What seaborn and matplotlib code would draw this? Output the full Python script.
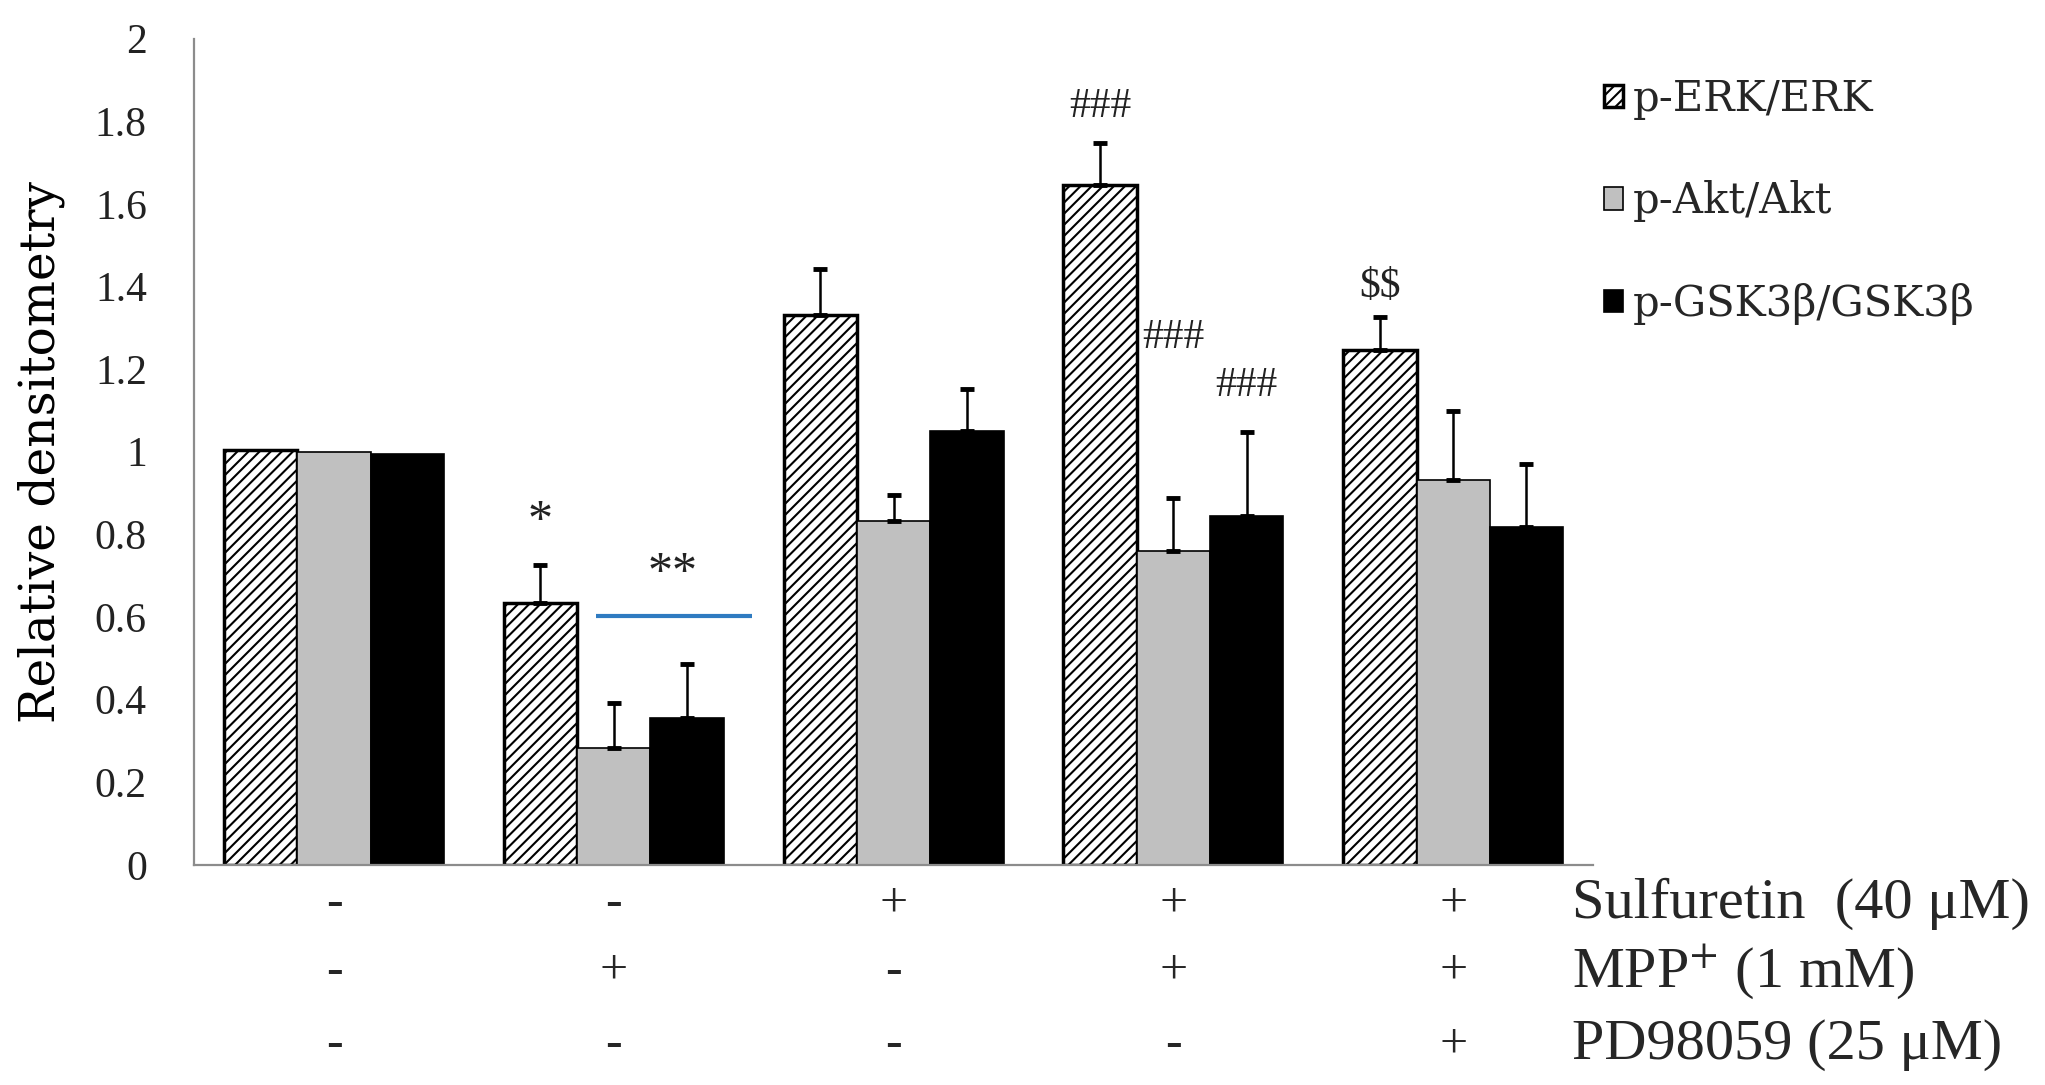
import matplotlib
matplotlib.use("Agg")
import matplotlib.pyplot as plt
import matplotlib.transforms as mtransforms
import numpy as np
import pandas as pd
import seaborn as sns


GROUPS = ["Control", "MPP+", "Sulfuretin", "Sulfuretin+MPP+", "Sulfuretin+MPP++PD98059"]
SERIES = ["p-ERK/ERK", "p-Akt/Akt", "p-GSK3\u03b2/GSK3\u03b2"]

erk_mean = [1.005, 0.635, 1.332, 1.646, 1.246]
erk_err = [0.0, 0.09, 0.11, 0.10, 0.08]
akt_mean = [1.0, 0.282, 0.833, 0.759, 0.931]
akt_err = [0.0, 0.111, 0.063, 0.13, 0.168]
gsk_mean = [0.995, 0.355, 1.051, 0.844, 0.819]
gsk_err = [0.0, 0.131, 0.101, 0.203, 0.152]

sulfuretin_row = ["-", "-", "+", "+", "+"]
mpp_row = ["-", "+", "-", "+", "+"]
pd_row = ["-", "-", "-", "-", "+"]
row_labels = ["Sulfuretin  (40 \u03bcM)", "MPP$^{+}$ (1 mM)", "PD98059 (25 \u03bcM)"]

y_ticks = [0, 0.2, 0.4, 0.6, 0.8, 1, 1.2, 1.4, 1.6, 1.8, 2]
y_tick_labels = ["0", "0.2", "0.4", "0.6", "0.8", "1", "1.2", "1.4", "1.6", "1.8", "2"]

# significance marks: (text, group index, series index, y)
marks = [
    ("*", 1, 0, 0.83),
    ("**", 1, 1.8, 0.705),
    ("###", 3, 0, 1.835),
    ("###", 3, 1, 1.276),
    ("###", 3, 2, 1.16),
    (r"\$\$", 4, 0, 1.40),
]


def build_frame() -> pd.DataFrame:
    rows = []
    for series, means, errs in zip(SERIES, [erk_mean, akt_mean, gsk_mean], [erk_err, akt_err, gsk_err]):
        for group, m, e in zip(GROUPS, means, errs):
            rows.append({"group": group, "series": series, "value": m, "err": e})
    return pd.DataFrame(rows)


def main() -> None:
    sns.set_style("white")
    plt.rcParams["font.family"] = ["Liberation Serif", "DejaVu Serif"]
    plt.rcParams["mathtext.fontset"] = "stix"
    plt.rcParams["hatch.linewidth"] = 1.5

    df = build_frame()

    fig = plt.figure(figsize=(20.45, 10.85), dpi=100)
    ax = fig.add_axes([0.0949, 0.2028, 0.779 - 0.0949, 0.9645 - 0.2028])

    sns.barplot(
        data=df, x="group", y="value", hue="series", order=GROUPS, hue_order=SERIES,
        palette=["white", "#C0C0C0", "black"], errorbar=None, width=0.786,
        edgecolor="black", linewidth=1.2, legend=False, ax=ax,
    )

    bar_containers = list(ax.containers[:3])
    for bar in bar_containers[0]:
        bar.set_hatch("///")
        bar.set_linewidth(2.5)

    for container, series in zip(bar_containers, SERIES):
        errs = df[df["series"] == series]["err"].to_numpy()
        xs = np.array([b.get_x() + b.get_width() / 2 for b in container])
        ys = np.array([b.get_height() for b in container])
        keep = errs > 0
        ax.errorbar(
            xs[keep], ys[keep], yerr=[np.zeros(keep.sum()), errs[keep]],
            fmt="none", ecolor="black", elinewidth=1.8, capsize=5, capthick=3.5, zorder=3,
        )

    bar_w = bar_containers[0][0].get_width()
    for text, gi, si, y in marks:
        x = gi + (si - 1) * bar_w
        size = 36 if "*" in text else 30
        ax.text(x, y, text, ha="center", va="center", fontsize=size, color="#222222")

    # blue bracket line over MPP+ group
    ax.plot([0.936, 1.495], [0.603, 0.603], color="#2F7BC1", lw=3, solid_capstyle="butt")

    ax.set_xlim(-0.5, 4.5)
    ax.set_ylim(0, 2)
    ax.set_yticks(y_ticks)
    ax.set_yticklabels(y_tick_labels, fontsize=30, color="#222222")
    ax.tick_params(axis="y", length=0, pad=34)
    ax.set_xticks(range(len(GROUPS)))
    ax.set_xticklabels([])
    ax.tick_params(axis="x", length=0)
    ax.set_xlabel("")
    ax.set_ylabel("Relative densitometry", fontsize=35, family=["DejaVu Serif"], color="black")
    ax.yaxis.set_label_coords(-0.092, 0.5)

    for side in ["top", "right"]:
        ax.spines[side].set_visible(False)
    for side in ["left", "bottom"]:
        ax.spines[side].set_color("#8C8C8C")
        ax.spines[side].set_linewidth(1.6)

    # treatment table below the axis
    trans = mtransforms.blended_transform_factory(ax.transData, ax.transAxes)
    row_y = [-0.047, -0.129, -0.218]
    for signs, label, y in zip([sulfuretin_row, mpp_row, pd_row], row_labels, row_y):
        for i, s in enumerate(signs):
            ax.text(i, y, s, ha="center", va="center", fontsize=36, transform=trans, clip_on=False)
        ax.text(4.425, y, label, ha="left", va="center", fontsize=42, transform=trans, clip_on=False)

    handles = [c[0] for c in bar_containers]
    ax.legend(
        handles, SERIES, loc="upper left", bbox_to_anchor=(1604 / 2045, 1 - 78 / 1085),
        bbox_transform=fig.transFigure, frameon=False,
        handlelength=0.45, handleheight=0.45, handletextpad=0.25, labelspacing=1.45,
        borderpad=0, borderaxespad=0, prop={"family": ["DejaVu Serif"], "size": 30},
    )

    fig.savefig("out.png", dpi=100)
    plt.close(fig)


if __name__ == "__main__":
    main()
